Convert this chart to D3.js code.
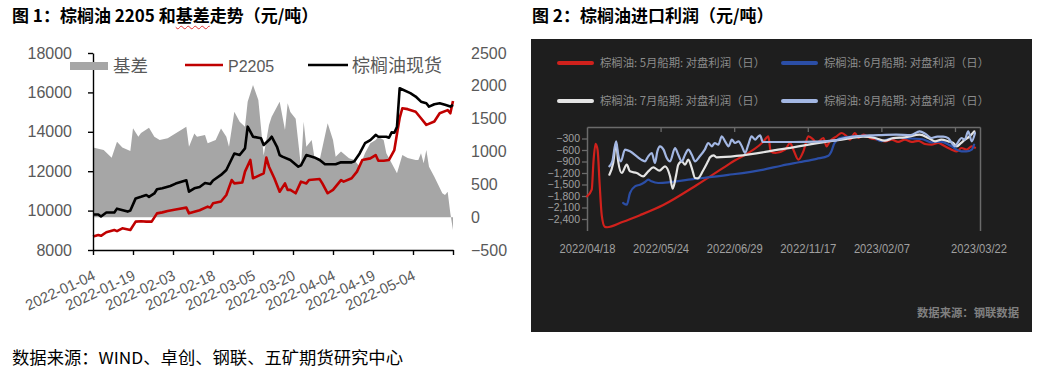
<!DOCTYPE html>
<html><head><meta charset="utf-8">
<script src="https://cdn.jsdelivr.net/npm/d3@7"></script>
<style>
body{margin:0;background:#fff;width:1052px;height:381px;overflow:hidden;position:relative;font-family:"Noto Sans CJK SC",sans-serif}
.title{position:absolute;top:3px;font-size:17px;font-weight:bold;color:#000;white-space:nowrap;line-height:24px}
.wavy{text-decoration:underline wavy #e03030;text-decoration-thickness:1px;text-underline-offset:3px}
svg{position:absolute;left:0;top:0}
</style></head><body>
<svg id="c" width="1052" height="381"></svg>
<div class="title" style="left:12px">图 1：棕榈油 2205 和<span class="wavy">基差</span>走势（元/吨）</div>
<div class="title" style="left:532px">图 2：棕榈油进口利润（元/吨）</div>
<script>
// ---------- Chart 1 data ----------
const c1Domain = ["2022-01-04", "2022-05-19"];
const c1TickDates = ["2022-01-04","2022-01-19","2022-02-03","2022-02-18","2022-03-05","2022-03-20","2022-04-04","2022-04-19","2022-05-04","2022-05-19"];
const c1TickLabels = ["2022-01-04","2022-01-19","2022-02-03","2022-02-18","2022-03-05","2022-03-20","2022-04-04","2022-04-19","2022-05-04",""];
const leftTicks = [8000,10000,12000,14000,16000,18000];
const rightTicks = [-500,0,500,1000,1500,2000,2500];

const spotDates = ["2022-01-04","2022-01-06","2022-01-07","2022-01-09","2022-01-12","2022-01-13","2022-01-17","2022-01-18","2022-01-20","2022-01-22","2022-01-24","2022-01-25","2022-01-27","2022-01-28","2022-01-30","2022-02-02","2022-02-04","2022-02-08","2022-02-09","2022-02-11","2022-02-13","2022-02-15","2022-02-17","2022-02-18","2022-02-21","2022-02-23","2022-02-26","2022-02-28","2022-03-02","2022-03-03","2022-03-05","2022-03-08","2022-03-09","2022-03-11","2022-03-12","2022-03-14","2022-03-15","2022-03-16","2022-03-19","2022-03-22","2022-03-23","2022-03-25","2022-03-28","2022-03-30","2022-04-01","2022-04-05","2022-04-07","2022-04-11","2022-04-12","2022-04-14","2022-04-16","2022-04-18","2022-04-20","2022-04-21","2022-04-24","2022-04-25","2022-04-26","2022-04-27","2022-04-28","2022-04-29","2022-05-03","2022-05-05","2022-05-07","2022-05-09","2022-05-10","2022-05-12","2022-05-14","2022-05-16","2022-05-18","2022-05-19"];
const spotVals = [9800,9800,9700,9900,9900,10100,9950,10000,10620,10700,10790,10700,10870,11080,11130,11250,11370,11540,10960,11130,11200,11400,11350,11530,11810,12060,12900,12820,13160,14260,13750,13670,13330,13580,13750,13240,12820,12740,12570,12230,12300,12820,12700,12570,12350,12350,12450,12450,12500,12900,13420,13580,13840,13750,13750,13700,13970,13950,14260,16210,15960,15790,15530,15450,15280,15400,15450,15370,15280,15370];

const futDates = ["2022-01-04","2022-01-06","2022-01-07","2022-01-09","2022-01-12","2022-01-13","2022-01-15","2022-01-18","2022-01-20","2022-01-22","2022-01-24","2022-01-26","2022-01-28","2022-01-30","2022-02-01","2022-02-04","2022-02-08","2022-02-09","2022-02-11","2022-02-13","2022-02-16","2022-02-17","2022-02-18","2022-02-21","2022-02-23","2022-02-25","2022-02-26","2022-03-01","2022-03-02","2022-03-04","2022-03-05","2022-03-09","2022-03-10","2022-03-11","2022-03-13","2022-03-15","2022-03-17","2022-03-18","2022-03-19","2022-03-21","2022-03-23","2022-03-25","2022-03-26","2022-03-30","2022-03-31","2022-04-02","2022-04-04","2022-04-07","2022-04-08","2022-04-11","2022-04-13","2022-04-15","2022-04-18","2022-04-20","2022-04-21","2022-04-23","2022-04-25","2022-04-27","2022-04-28","2022-04-29","2022-04-30","2022-05-02","2022-05-05","2022-05-07","2022-05-09","2022-05-12","2022-05-14","2022-05-17","2022-05-18","2022-05-19"];
const futVals = [8680,8760,8720,8900,9015,8960,9100,9015,9440,9460,9440,9440,9860,9910,9980,10060,10150,9860,9940,10020,10200,10150,10370,10460,10790,11550,11380,11430,11980,12570,11640,11890,12690,12230,11640,10960,11380,11050,11050,10880,11470,11380,11550,11600,11380,10880,11050,11550,11470,11640,11980,12570,12650,12820,12530,12530,12570,13075,13900,14700,15195,15150,15020,14690,14350,14520,14940,15100,14940,15560];

const basisDates = ["2022-01-04","2022-01-08","2022-01-11","2022-01-13","2022-01-15","2022-01-18","2022-01-19","2022-01-21","2022-01-22","2022-01-25","2022-01-27","2022-01-29","2022-02-01","2022-02-08","2022-02-09","2022-02-11","2022-02-12","2022-02-15","2022-02-16","2022-02-19","2022-02-21","2022-02-23","2022-02-24","2022-02-26","2022-02-28","2022-03-02","2022-03-03","2022-03-05","2022-03-07","2022-03-09","2022-03-11","2022-03-12","2022-03-15","2022-03-17","2022-03-18","2022-03-19","2022-03-21","2022-03-23","2022-03-24","2022-03-25","2022-03-27","2022-03-28","2022-03-30","2022-04-02","2022-04-04","2022-04-05","2022-04-07","2022-04-10","2022-04-12","2022-04-14","2022-04-16","2022-04-18","2022-04-20","2022-04-21","2022-04-23","2022-04-24","2022-04-27","2022-04-28","2022-04-30","2022-05-02","2022-05-05","2022-05-06","2022-05-07","2022-05-08","2022-05-09","2022-05-10","2022-05-12","2022-05-15","2022-05-16","2022-05-17","2022-05-18","2022-05-19"];
const basisVals = [1060,1023,906,1150,1060,1008,1353,1225,1280,1363,1226,1175,1200,1378,1073,1275,1225,1250,1125,1175,1350,1225,1073,1606,1454,1378,1758,2013,1784,940,1404,1530,1758,1327,1733,1600,1500,769,1454,1073,1175,921,870,1429,1175,921,1000,896,870,769,972,1124,1175,1226,1175,972,744,668,947,900,870,870,972,820,1023,769,617,363,338,388,58,-195];

// ---------- Chart 2 data ----------
const c2Legend = ["棕榈油: 5月船期: 对盘利润（日）","棕榈油: 6月船期: 对盘利润（日）","棕榈油: 7月船期: 对盘利润（日）","棕榈油: 8月船期: 对盘利润（日）"];
const c2LabelIdx = [0,25,50,75,100,133];
const c2Labels = ["2022/04/18","2022/05/24","2022/06/29","2022/11/17","2023/02/07","2023/03/22"];
const c2TickIdx = [25,50,75,100,125];
const c2YTicks = [-2400,-2100,-1800,-1500,-1200,-900,-600,-300];

const mayIdx = [0,1.6,2.2,2.9,3.6,4.3,5,6,6.8,12,18,25.9,37.3,48.6,59.9,61.6,62.4,64,67.3,69,70.1,71.8,73.5,75.2,76.9,78,80.3,81.4,82.5,84.8,86.5,88.2,89.3,91,92.2,93.9,96.1,99,101.3,103.5,105.7,108,110.3,112.5,114.8,117,119.3,121.6,123.9,125.6,127.2,128.9,130.7,131.8];
const mayVals = [-1808,-1635,-900,-440,-600,-1500,-2300,-2600,-2615,-2480,-2300,-2035,-1513,-947,-383,-243,-635,-678,-591,-417,-591,-852,-635,-243,-330,-417,-287,-504,-374,-243,-157,-243,-330,-157,-287,-200,-287,-330,-374,-330,-390,-330,-390,-360,-443,-460,-417,-504,-591,-635,-548,-591,-504,-540];

const junIdx = [12.3,13.5,14.6,16.3,18,19.7,20.8,21.9,24.2,36,48,60,66,72,78,82,83,84,86,90,94,97,100,103,107,110,114,117,120,123.9,125.6,127.2,128.9,130.7,131.5];
const junVals = [-1983,-2027,-1722,-1548,-1505,-1435,-1374,-1418,-1461,-1360,-1250,-1110,-1010,-920,-830,-750,-640,-430,-290,-250,-230,-260,-370,-300,-280,-300,-320,-400,-380,-504,-591,-635,-635,-591,-461];

const julIdx = [7.6,8.9,9.9,10.6,11.8,13.5,14.6,16.9,19.1,20.8,22.5,24.6,26.5,28.2,29.1,30.3,31,32.2,33.3,34.4,35.6,36.7,37.6,39.4,41.1,41.8,43,44,67.3,81.4,86.5,93.8,97.8,101.2,104,108,113,116,118.2,120.4,122.7,124.4,125.6,127,128.4,130,131.6];
const julVals = [-1244,-939,-417,-896,-1200,-983,-1157,-1200,-1287,-1157,-1052,-1140,-1027,-1287,-1610,-1244,-983,-896,-983,-852,-1070,-1331,-1340,-1140,-896,-791,-739,-791,-566,-383,-330,-252,-287,-357,-290,-270,-200,-287,-374,-330,-374,-417,-504,-420,-330,-243,-113];

const augIdx = [7.6,8.6,9.9,10.6,11.5,12.9,14.6,16.9,18.4,19.7,20.8,22,23.1,23.9,24.8,26,27.1,28.2,29.9,31,32.2,33.3,34.4,35.6,36.7,38.3,40,41.2,42.4,43.4,44.6,45.8,46.9,48.1,49.2,50.3,51.5,52.6,53.7,54.8,55.9,57.1,58.2,58.8,59.7,64,70,78,84,88,92,96,100,105,110,113,115,117,119,121,122.7,123.9,125,126.2,127.2,128.3,129.5,130.7,131.8];
const augVals = [-1027,-896,-374,-722,-896,-591,-635,-765,-852,-896,-765,-678,-939,-635,-504,-591,-809,-896,-548,-722,-896,-722,-591,-722,-896,-765,-591,-417,-504,-417,-461,-243,-374,-504,-330,-417,-374,-504,-678,-461,-243,-330,-243,-217,-391,-391,-391,-380,-350,-280,-240,-220,-210,-200,-210,-113,-180,-287,-250,-250,-290,-417,-504,-374,-287,-330,-113,-374,-157];

// ---------- Drawing ----------
const parse = d3.timeParse("%Y-%m-%d");
const svg = d3.select("#c");
const LAT = "'Liberation Sans', Arial, sans-serif";
const CJK = "'Noto Sans CJK SC', sans-serif";

// Chart 1
const x1 = d3.scaleTime().domain(c1Domain.map(parse)).range([93, 453]);
const yL = d3.scaleLinear().domain([8000, 18000]).range([250, 53]);
const yR = d3.scaleLinear().domain([-500, 2500]).range([250, 53]);
const g1 = svg.append("g");

const zip = (ds, vs) => ds.map((d, i) => [parse(d), vs[i]]);
g1.append("path").datum(zip(basisDates, basisVals))
  .attr("fill", "#a6a6a6")
  .attr("d", d3.area().x(d => x1(d[0])).y0(yR(0)).y1(d => yR(d[1])));

g1.append("path").datum(zip(futDates, futVals))
  .attr("fill", "none").attr("stroke", "#c00000").attr("stroke-width", 2.6).attr("stroke-linejoin", "round")
  .attr("d", d3.line().x(d => x1(d[0])).y(d => yL(d[1])));
g1.append("path").datum(zip(spotDates, spotVals))
  .attr("fill", "none").attr("stroke", "#000").attr("stroke-width", 2.6).attr("stroke-linejoin", "round")
  .attr("d", d3.line().x(d => x1(d[0])).y(d => yL(d[1])));

const axL = g1.append("g").attr("transform", "translate(93,0)")
  .call(d3.axisLeft(yL).tickValues(leftTicks).tickSize(5).tickSizeOuter(0).tickPadding(16).tickFormat(d3.format("d")));
const axR = g1.append("g").attr("transform", "translate(453,0)")
  .call(d3.axisRight(yR).tickValues(rightTicks).tickSize(0).tickPadding(18).tickFormat(d3.format("d")));
axR.select(".domain").remove();
const axB = g1.append("g").attr("transform", "translate(0,250)")
  .call(d3.axisBottom(x1).tickValues(c1TickDates.map(parse)).tickSize(5).tickSizeOuter(0)
    .tickFormat((d, i) => c1TickLabels[i]));
[axL, axR, axB].forEach(a => {
  a.select(".domain").attr("stroke", "#000").attr("stroke-width", 1.4);
  a.selectAll(".tick line").attr("stroke", "#000").attr("stroke-width", 1.4);
  a.selectAll("text").attr("fill", "#595959").style("font-family", LAT).style("font-size", "16px");
});
axB.selectAll("text")
  .attr("y", 0).attr("dy", 0).attr("x", 0)
  .attr("text-anchor", "end")
  .attr("transform", "translate(3,29) rotate(-25)")
  .style("font-size", "15px")
  .each(function(d, i){ if (c1TickLabels[i]) d3.select(this).attr("textLength", 75).attr("lengthAdjust", "spacingAndGlyphs"); });

// legend chart 1
const lg1 = g1.append("g");
lg1.append("rect").attr("x", 70).attr("y", 62).attr("width", 38).attr("height", 8).attr("fill", "#a6a6a6");
lg1.append("text").attr("x", 113).attr("y", 66).attr("dy", "0.36em").text("基差")
  .attr("fill", "#595959").style("font-family", CJK).style("font-size", "17.5px");
lg1.append("line").attr("x1", 185).attr("x2", 223).attr("y1", 65).attr("y2", 65).attr("stroke", "#c00000").attr("stroke-width", 2.6);
lg1.append("text").attr("x", 228).attr("y", 66).attr("dy", "0.36em").text("P2205")
  .attr("fill", "#595959").style("font-family", LAT).style("font-size", "16px");
lg1.append("line").attr("x1", 308).attr("x2", 348).attr("y1", 65).attr("y2", 65).attr("stroke", "#000").attr("stroke-width", 2.6);
lg1.append("text").attr("x", 352).attr("y", 66).attr("dy", "0.36em").text("棕榈油现货")
  .attr("fill", "#595959").style("font-family", CJK).style("font-size", "18px");

// footer
svg.append("text").attr("x", 12).attr("y", 358).attr("dy", "0.36em")
  .text("数据来源：WIND、卓创、钢联、五矿期货研究中心")
  .attr("textLength", 391).attr("lengthAdjust", "spacingAndGlyphs")
  .attr("fill", "#000").style("font-family", CJK).style("font-size", "16.5px");

// Chart 2
const g2 = svg.append("g");
g2.append("rect").attr("x", 531).attr("y", 39).attr("width", 501).attr("height", 293).attr("fill", "#1e1e1e");
const x2 = d3.scaleLinear().domain([0, 133.5]).range([587, 980]);
const y2 = d3.scaleLinear().domain([-2700, 0]).range([230.5, 127]);

const axis2Color = "#6b6b6b";
const ax2L = g2.append("g").attr("transform", "translate(587,0)")
  .call(d3.axisLeft(y2).tickValues(c2YTicks).tickSize(5).tickSizeOuter(0).tickPadding(2).tickFormat(d3.format(",")));
const ax2R = g2.append("g").attr("transform", "translate(980,0)")
  .call(d3.axisRight(y2).tickValues([]).tickSizeOuter(0));
const ax2T = g2.append("g").attr("transform", "translate(0,127)")
  .call(d3.axisBottom(x2).tickValues(c2TickIdx).tickSize(5).tickSizeOuter(0).tickFormat(""));
const ax2B = g2.append("g").attr("transform", "translate(0,230)")
  .call(d3.axisBottom(x2).tickValues(c2LabelIdx).tickSize(0).tickPadding(14).tickFormat((d, i) => c2Labels[i]));
ax2B.select(".domain").remove();
[ax2L, ax2R, ax2T].forEach(a => {
  a.select(".domain").attr("stroke", axis2Color).attr("stroke-width", 1.5);
  a.selectAll(".tick line").attr("stroke", axis2Color).attr("stroke-width", 1.3);
});
ax2L.selectAll("text").attr("fill", "#a0a0a0").style("font-family", LAT).style("font-size", "10.5px");
ax2B.selectAll("text").attr("fill", "#a0a0a0").style("font-family", LAT).style("font-size", "13px")
  .attr("textLength", 56).attr("lengthAdjust", "spacingAndGlyphs");

const series2 = [
  {idx: mayIdx, vals: mayVals, color: "#d0211c"},
  {idx: junIdx, vals: junVals, color: "#2b4ea6"},
  {idx: julIdx, vals: julVals, color: "#e4e4e4"},
  {idx: augIdx, vals: augVals, color: "#a3b7e3"}
];
const line2 = d3.line().x(d => x2(d[0])).y(d => y2(d[1])).curve(d3.curveMonotoneX);
series2.forEach(s => {
  g2.append("path").datum(s.idx.map((v, i) => [v, s.vals[i]]))
    .attr("fill", "none").attr("stroke", s.color).attr("stroke-width", 2.2)
    .attr("stroke-linejoin", "round").attr("stroke-linecap", "round")
    .attr("d", line2);
});

// legend chart 2
const legPos = [[557, 63], [781, 63], [557, 101], [781, 101]];
series2.forEach((s, i) => {
  const [lx, ly] = legPos[i];
  g2.append("line").attr("x1", lx + 2).attr("x2", lx + 35).attr("y1", ly).attr("y2", ly)
    .attr("stroke", s.color).attr("stroke-width", 4).attr("stroke-linecap", "round");
  g2.append("text").attr("x", lx + 43).attr("y", ly).attr("dy", "0.36em").text(c2Legend[i])
    .attr("textLength", 165).attr("lengthAdjust", "spacingAndGlyphs")
    .attr("fill", "#8c8c8c").style("font-family", CJK).style("font-size", "11.5px");
});

g2.append("text").attr("x", 1019).attr("y", 313).attr("dy", "0.36em").attr("text-anchor", "end")
  .text("数据来源：钢联数据").attr("textLength", 102).attr("lengthAdjust", "spacingAndGlyphs")
  .attr("fill", "#808080").style("font-family", CJK).style("font-size", "11px").style("font-weight", "bold");
</script>
</body></html>
